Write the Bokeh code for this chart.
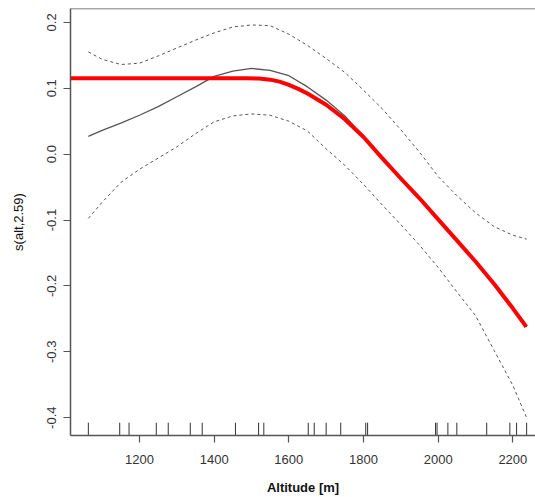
from bokeh.plotting import figure
from bokeh.models import Range1d, FixedTicker, PrintfTickFormatter, Span
from bokeh.embed import file_html
from bokeh.resources import INLINE

# ---- data ----
fit_alt = [1063, 1100, 1150, 1200, 1250, 1300, 1350, 1400, 1450, 1500, 1550, 1600,
           1650, 1700, 1750, 1800, 1850, 1900, 1950, 2000, 2050, 2100, 2150, 2200, 2237]
fit_val = [0.027, 0.036, 0.047, 0.059, 0.072, 0.087, 0.102, 0.118, 0.126, 0.130, 0.127, 0.119,
           0.102, 0.082, 0.058, 0.027, -0.007, -0.039, -0.068, -0.099, -0.131, -0.162, -0.197, -0.234, -0.262]
upper_val = [0.155, 0.144, 0.136, 0.138, 0.149, 0.161, 0.173, 0.184, 0.193, 0.196, 0.195, 0.182,
             0.165, 0.145, 0.124, 0.097, 0.069, 0.037, 0.003, -0.034, -0.063, -0.089, -0.110, -0.123, -0.129]
lower_val = [-0.0975, -0.073, -0.043, -0.023, -0.006, 0.011, 0.031, 0.049, 0.058, 0.061, 0.059, 0.050,
             0.035, 0.008, -0.017, -0.046, -0.077, -0.107, -0.138, -0.172, -0.209, -0.245, -0.298, -0.351, -0.400]

red_alt = [1010, 1490, 1520, 1550, 1575, 1600, 1625, 1650, 1700, 1750, 1800, 1850, 1900, 1950, 2000,
           2050, 2100, 2150, 2200, 2236]
red_val = [0.115, 0.115, 0.1147, 0.113, 0.110, 0.105, 0.099, 0.092, 0.075, 0.053, 0.026, -0.006,
           -0.037, -0.067, -0.099, -0.131, -0.163, -0.197, -0.234, -0.262]

rug_alt = [1063, 1147, 1172, 1245, 1277, 1336, 1368, 1457, 1519, 1533, 1652, 1668,
           1700, 1739, 1806, 1811, 1993, 1997, 2026, 2050, 2130, 2192, 2210, 2237]

x_ticks = [1200, 1400, 1600, 1800, 2000, 2200]
y_ticks = [-0.4, -0.3, -0.2, -0.1, 0.0, 0.1, 0.2]

X_START, X_END = 1015.2, 2260.7
Y_START, Y_END = -0.427, 0.221

FONT = "Liberation Sans"
AXIS_COL = "#555555"

p = figure(width=535, height=497, output_backend="svg", toolbar_location=None,
           x_range=Range1d(X_START, X_END), y_range=Range1d(Y_START, Y_END),
           min_border_left=70, min_border_right=0, min_border_top=8, min_border_bottom=61)

p.outline_line_color = None
p.xgrid.visible = False
p.ygrid.visible = False
p.background_fill_color = "white"
p.border_fill_color = "white"

# top border of the box
p.add_layout(Span(location=Y_END, dimension="width", line_color=AXIS_COL, line_width=1.5))

# curves
p.line(fit_alt, upper_val, line_color="#555555", line_width=1, line_dash="3 3")
p.line(fit_alt, lower_val, line_color="#555555", line_width=1, line_dash="3 3")
p.line(fit_alt, fit_val, line_color="#555555", line_width=1.3)
p.line(red_alt, red_val, line_color="#ff0000", line_width=4, line_join="round")

# rug
rug_len = 0.03 * (Y_END - Y_START)
p.segment(x0=rug_alt, y0=[Y_START] * len(rug_alt), x1=rug_alt, y1=[Y_START + rug_len] * len(rug_alt),
          line_color="#333333", line_width=1)

# axes
for ax in (p.xaxis[0], p.yaxis[0]):
    ax.axis_line_color = AXIS_COL
    ax.axis_line_width = 1.5
    ax.major_tick_line_color = AXIS_COL
    ax.major_tick_line_width = 1.2
    ax.major_tick_out = 7
    ax.major_tick_in = 0
    ax.minor_tick_out = 0
    ax.minor_tick_in = 0
    ax.major_label_text_font = FONT
    ax.major_label_text_font_size = "13px"
    ax.major_label_text_color = "#333333"
    ax.axis_label_text_font = FONT
    ax.axis_label_text_font_size = "13px"
    ax.axis_label_text_color = "#111111"

p.xaxis.ticker = FixedTicker(ticks=x_ticks)
p.xaxis.major_label_standoff = 12
p.xaxis.axis_label = "Altitude [m]"
p.xaxis.axis_label_text_font_style = "bold"
p.xaxis.axis_label_standoff = 13

p.yaxis.ticker = FixedTicker(ticks=y_ticks)
p.yaxis.formatter = PrintfTickFormatter(format="%.1f")
p.yaxis.major_label_orientation = "vertical"
p.yaxis.major_label_standoff = 7
p.yaxis.axis_label = "s(alt,2.59)"
p.yaxis.axis_label_text_font_style = "normal"
p.yaxis.axis_label_standoff = 19

open("out.html", "w").write(file_html(p, INLINE))
